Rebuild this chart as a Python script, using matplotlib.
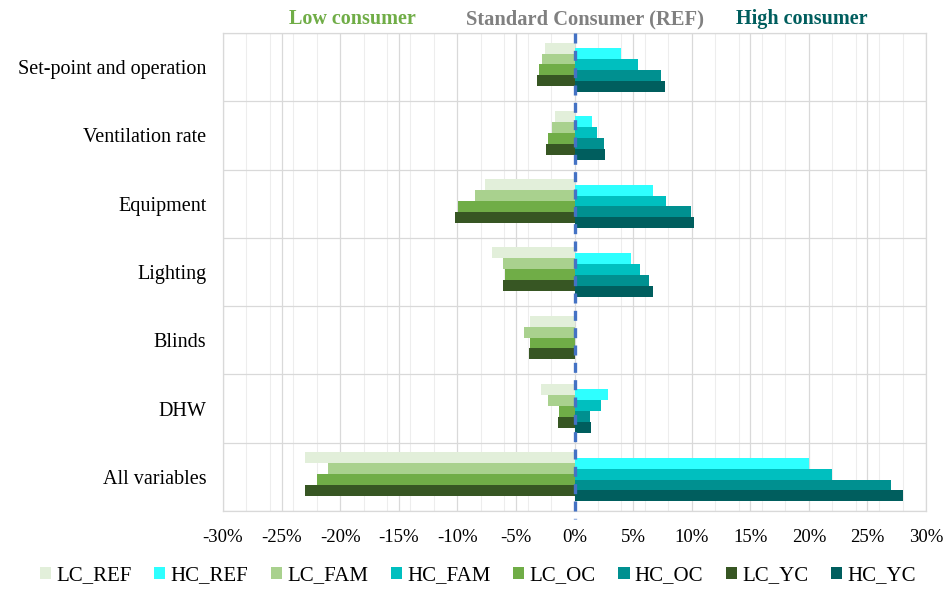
import matplotlib.pyplot as plt
import matplotlib.ticker as mticker
import numpy as np

# --- Data (percent change vs standard consumer) ---
categories = ["Set-point and operation", "Ventilation rate", "Equipment",
              "Lighting", "Blinds", "DHW", "All variables"]

series_names = ["LC_REF", "HC_REF", "LC_FAM", "HC_FAM",
                "LC_OC", "HC_OC", "LC_YC", "HC_YC"]

lc_ref = [-2.5, -1.7, -7.6, -7.0, -3.8, -2.9, -23.0]
hc_ref = [4.0, 1.5, 6.7, 4.8, 0.0, 2.9, 20.0]
lc_fam = [-2.8, -1.9, -8.5, -6.1, -4.3, -2.3, -21.0]
hc_fam = [5.4, 1.9, 7.8, 5.6, 0.0, 2.3, 22.0]
lc_oc = [-3.0, -2.3, -9.9, -5.9, -3.8, -1.3, -22.0]
hc_oc = [7.4, 2.5, 9.9, 6.4, 0.0, 1.3, 27.0]
lc_yc = [-3.2, -2.4, -10.2, -6.1, -3.9, -1.4, -23.0]
hc_yc = [7.7, 2.6, 10.2, 6.7, 0.0, 1.4, 28.0]

values = [lc_ref, hc_ref, lc_fam, hc_fam, lc_oc, hc_oc, lc_yc, hc_yc]
colors = ["#E2EFDA", "#2EFFFF", "#A9D18E", "#00BFBF",
          "#70AD47", "#009090", "#375623", "#005E5E"]

plt.rcParams['font.family'] = ['Liberation Serif', 'DejaVu Serif']

fig = plt.figure(figsize=(9.46, 5.90), dpi=100)
ax = fig.add_axes([0.2357, 0.134, 0.7432, 0.810])

y = np.arange(len(categories))
step = 0.08
height = 2 * step
for i, (name, vals, col) in enumerate(zip(series_names, values, colors)):
    ax.barh(y + (i - 3.5) * step, vals, height=height, color=col,
            label=name, zorder=3)

ax.set_xlim(-30, 30)
ax.set_ylim(len(categories) - 0.5, -0.5)

# gridlines: major every 5 %, minor every 2 %
ax.xaxis.set_major_locator(mticker.MultipleLocator(5))
ax.xaxis.set_minor_locator(mticker.MultipleLocator(2))
ax.xaxis.set_major_formatter(mticker.FuncFormatter(lambda v, p: f"{v:.0f}%"))
ax.grid(True, axis='x', which='major', color='#D9D9D9', linewidth=0.9, zorder=0)
ax.grid(True, axis='x', which='minor', color='#EDEDED', linewidth=0.8, zorder=0)

# category separators
ax.set_yticks(y)
ax.set_yticklabels(categories, fontsize=14.5)
ax.set_yticks(np.arange(-0.5, len(categories)), minor=True)
ax.grid(True, axis='y', which='minor', color='#D9D9D9', linewidth=0.9, zorder=0)
ax.tick_params(axis='both', which='both', length=0)
ax.tick_params(axis='y', pad=12)
ax.tick_params(axis='x', labelsize=13.5, pad=13)

for s in ax.spines.values():
    s.set_color('#D9D9D9')
    s.set_linewidth(0.9)

# reference line at 0
ax.plot([0, 0], [1.0, -0.017], transform=ax.get_xaxis_transform(),
        color='#4472C4', linestyle=(0, (3, 2.2)), linewidth=2.4,
        clip_on=False, zorder=5)

# group headers
fig.text(352 / 946, 1 - 19 / 590, "Low consumer", color='#70AD47',
         fontsize=14.5, fontweight='bold', ha='center', va='center')
fig.text(585 / 946, 1 - 19 / 590, "Standard Consumer (REF)", color='#808080',
         fontsize=14.8, fontweight='bold', ha='center', va='center')
fig.text(802 / 946, 1 - 19 / 590, "High consumer", color='#005E5E',
         fontsize=14.5, fontweight='bold', ha='center', va='center')

fig.legend(loc='center', bbox_to_anchor=(0.505, 0.024), ncol=8, frameon=False,
           fontsize=15, handlelength=0.55, handleheight=0.55, handletextpad=0.25,
           columnspacing=1.07)

fig.savefig("out.png", dpi=100)
